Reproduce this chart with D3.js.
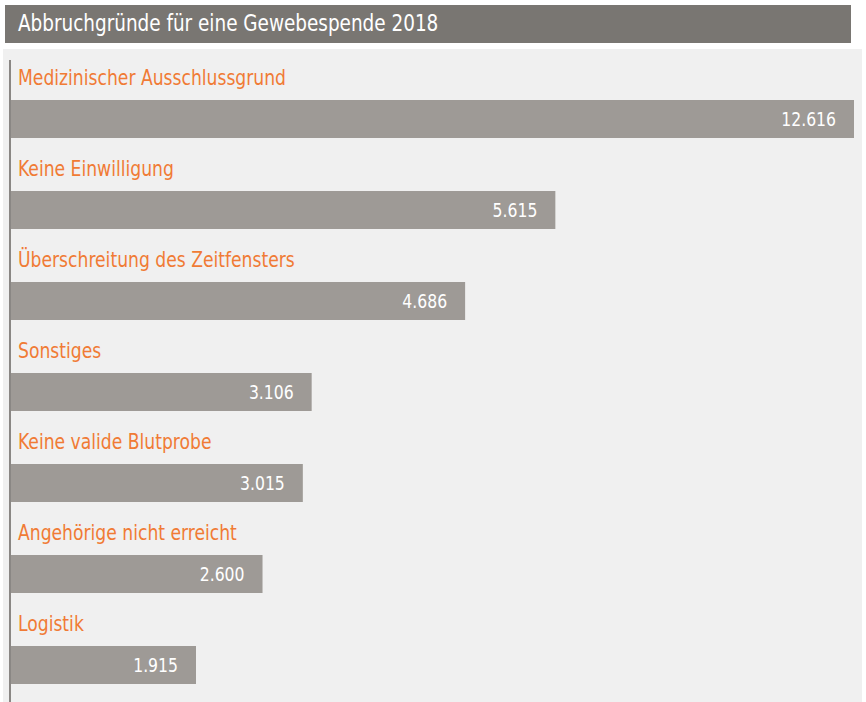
<!DOCTYPE html>
<html>
<head>
<meta charset="utf-8">
<script src="https://d3js.org/d3.v7.min.js"></script>
<style>
  body { margin: 0; background: #ffffff; }
  text { font-family: "DejaVu Sans Condensed", "DejaVu Sans", sans-serif; }
</style>
</head>
<body>
<svg id="chart" width="866" height="702"></svg>
<script>
// data
const title = "Abbruchgründe für eine Gewebespende 2018";
const reasons = [
  "Medizinischer Ausschlussgrund",
  "Keine Einwilligung",
  "Überschreitung des Zeitfensters",
  "Sonstiges",
  "Keine valide Blutprobe",
  "Angehörige nicht erreicht",
  "Logistik"
];
const counts = [12616, 5615, 4686, 3106, 3015, 2600, 1915];

const rows = reasons.map((r, i) => ({ reason: r, count: counts[i] }));

const de = d3.formatLocale({ decimal: ",", thousands: ".", grouping: [3], currency: ["", " €"] });
const fmt = de.format(",d");

const svg = d3.select("#chart");

// title bar
svg.append("rect")
  .attr("x", 5).attr("y", 5)
  .attr("width", 846).attr("height", 38)
  .attr("fill", "#797672");
// no condensed face installed, so squeeze the text a bit
svg.append("text")
  .attr("transform", "translate(18,31) scale(0.89,1)")
  .attr("fill", "#ffffff")
  .style("font-size", "23px")
  .text(title);

// panel
svg.append("rect")
  .attr("x", 3).attr("y", 49)
  .attr("width", 859).attr("height", 653)
  .attr("fill", "#f0f0f0");

// the longest bar runs past the panel, so the scale is clamped
const x = d3.scaleLinear().domain([0, 8690]).range([10, 854]).clamp(true);
const y = d3.scaleBand().domain(reasons).range([60, 697]);

const row = svg.selectAll("g.row")
  .data(rows)
  .enter()
  .append("g")
  .attr("class", "row")
  .attr("transform", d => "translate(0," + y(d.reason) + ")");

row.append("text")
  .attr("transform", "translate(18,25) scale(0.91,1)")
  .attr("fill", "#f07b35")
  .style("font-size", "21px")
  .text(d => d.reason);

row.append("rect")
  .attr("x", x(0)).attr("y", 40)
  .attr("width", d => x(d.count) - x(0))
  .attr("height", 38)
  .attr("fill", "#9e9a96");

row.append("text")
  .attr("transform", d => "translate(" + (x(d.count) - 18) + ",66) scale(0.87,1)")
  .attr("text-anchor", "end")
  .attr("fill", "#ffffff")
  .style("font-size", "20px")
  .text(d => fmt(d.count));

// left axis line
svg.append("line")
  .attr("x1", 10).attr("x2", 10)
  .attr("y1", 60).attr("y2", 702)
  .attr("stroke", "#8a8784")
  .attr("stroke-width", 2);
</script>
</body>
</html>
